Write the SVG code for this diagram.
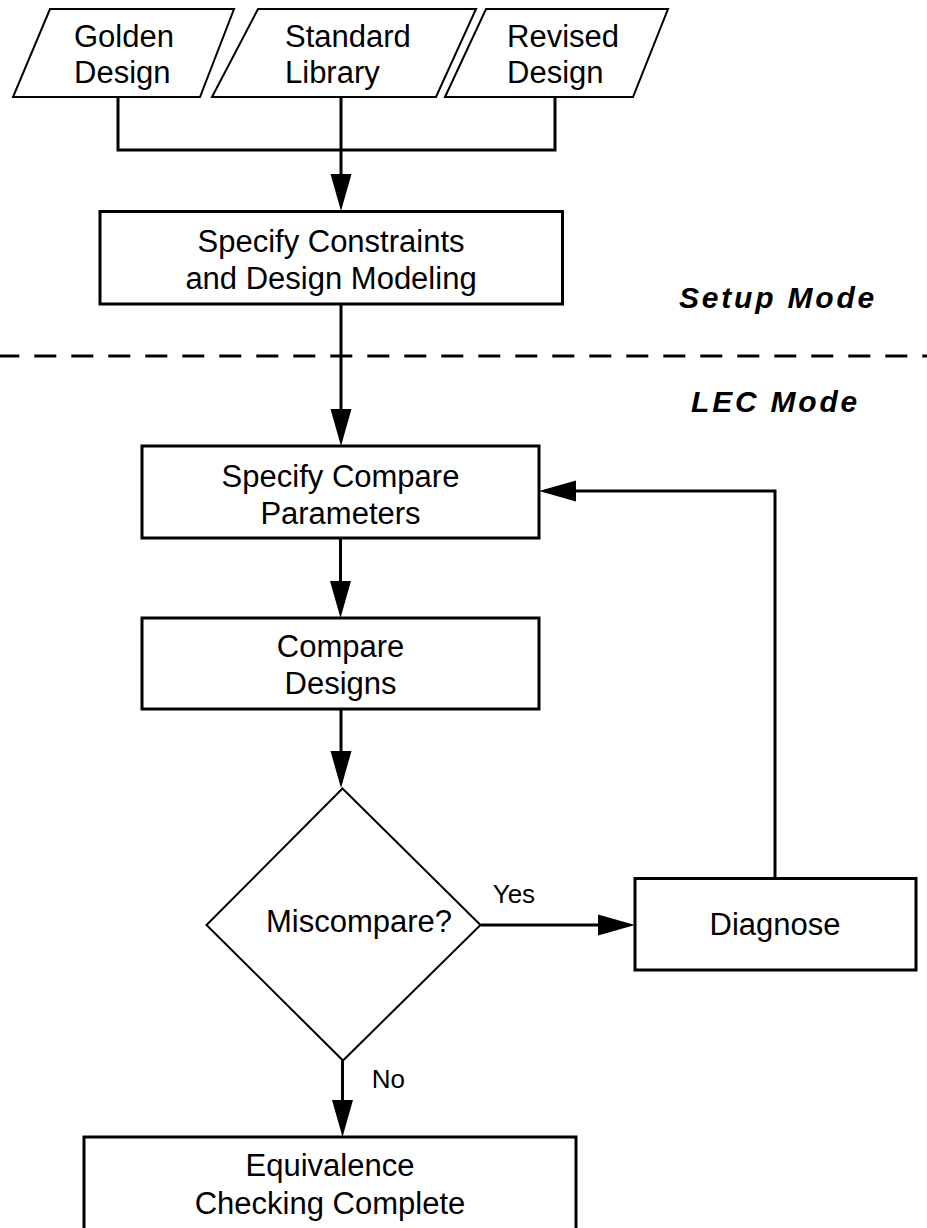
<svg xmlns="http://www.w3.org/2000/svg" width="927" height="1228" viewBox="0 0 927 1228">
  <style>
    .box { fill: #fff; stroke: #000; stroke-width: 3; }
    .thin { fill: #fff; stroke: #000; stroke-width: 2; stroke-linejoin: miter; }
    .conn { fill: none; stroke: #000; stroke-width: 3; }
    .t { font-family: "Liberation Sans", Arial, Helvetica, sans-serif; font-size: 31px; fill: #000; }
    .c { text-anchor: middle; }
    .lbl { font-family: "Liberation Sans", Arial, Helvetica, sans-serif; font-size: 26px; fill: #000; }
    .mode { font-family: "Liberation Sans", Arial, Helvetica, sans-serif; font-size: 30px; font-weight: bold; font-style: italic; letter-spacing: 2.8px; fill: #000; }
  </style>
  <defs>
    <marker id="ah" markerUnits="userSpaceOnUse" markerWidth="37" markerHeight="22" viewBox="0 0 37 22" refX="31" refY="11" orient="auto">
      <path d="M0,0.5 L37,11 L0,21.5 Z" fill="#000"/>
    </marker>
  </defs>

  <rect width="927" height="1228" fill="#fff"/>

  <g id="connectors">
    <path class="conn" d="M118,97 V150 H555 V97"/>
    <path class="conn" d="M341,95 V205" marker-end="url(#ah)"/>
    <path class="conn" d="M341,304 V440" marker-end="url(#ah)"/>
    <path class="conn" d="M340.5,538 V612" marker-end="url(#ah)"/>
    <path class="conn" d="M341,709 V782" marker-end="url(#ah)"/>
    <path class="conn" d="M481,925 H629" marker-end="url(#ah)"/>
    <path class="conn" d="M775,878 V491 H545" marker-end="url(#ah)"/>
    <path class="conn" d="M342.5,1060 V1131" marker-end="url(#ah)"/>
  </g>

  <g id="divider">
    <line x1="-2.7" y1="356" x2="927" y2="356" stroke="#000" stroke-width="3" stroke-dasharray="22 15"/>
    <text class="mode" x="679" y="308">Setup Mode</text>
    <text class="mode" x="691" y="412">LEC Mode</text>
  </g>

  <g id="golden">
    <polygon class="thin" points="50,9 234,9 200,97 13,97"/>
    <text class="t" x="74" y="46.7">Golden</text>
    <text class="t" x="74" y="83.3">Design</text>
  </g>
  <g id="standard">
    <polygon class="thin" points="258,9 476,9 436,97 212,97"/>
    <text class="t" x="285" y="46.7">Standard</text>
    <text class="t" x="285" y="83.3">Library</text>
  </g>
  <g id="revised">
    <polygon class="thin" points="486,9 668,9 633,97 445,97"/>
    <text class="t" x="507" y="46.7">Revised</text>
    <text class="t" x="507" y="83.3">Design</text>
  </g>

  <g id="constraints">
    <rect class="box" x="100" y="211.5" width="462.5" height="92.5"/>
    <text class="t c" x="331" y="252">Specify Constraints</text>
    <text class="t c" x="331" y="288.5">and Design Modeling</text>
  </g>

  <g id="compare-params">
    <rect class="box" x="142" y="446" width="397" height="92"/>
    <text class="t c" x="340.5" y="487">Specify Compare</text>
    <text class="t c" x="340.5" y="523.5">Parameters</text>
  </g>

  <g id="compare-designs">
    <rect class="box" x="142" y="618" width="397" height="91"/>
    <text class="t c" x="340.5" y="657">Compare</text>
    <text class="t c" x="340.5" y="693.5">Designs</text>
  </g>

  <g id="miscompare">
    <polygon class="thin" points="342.5,788.5 480.5,925 343,1060.5 206.5,925"/>
    <text class="t" x="266" y="932">Miscompare?</text>
  </g>

  <g id="diagnose">
    <rect class="box" x="635" y="878.5" width="281" height="91.5"/>
    <text class="t c" x="775" y="935">Diagnose</text>
  </g>

  <g id="complete">
    <rect class="box" x="84" y="1137" width="492" height="120"/>
    <text class="t c" x="330" y="1176">Equivalence</text>
    <text class="t c" x="330" y="1213.5">Checking Complete</text>
  </g>

  <g id="edge-labels">
    <text class="lbl" x="492.7" y="903">Yes</text>
    <text class="lbl" x="371.7" y="1088">No</text>
  </g>
</svg>
